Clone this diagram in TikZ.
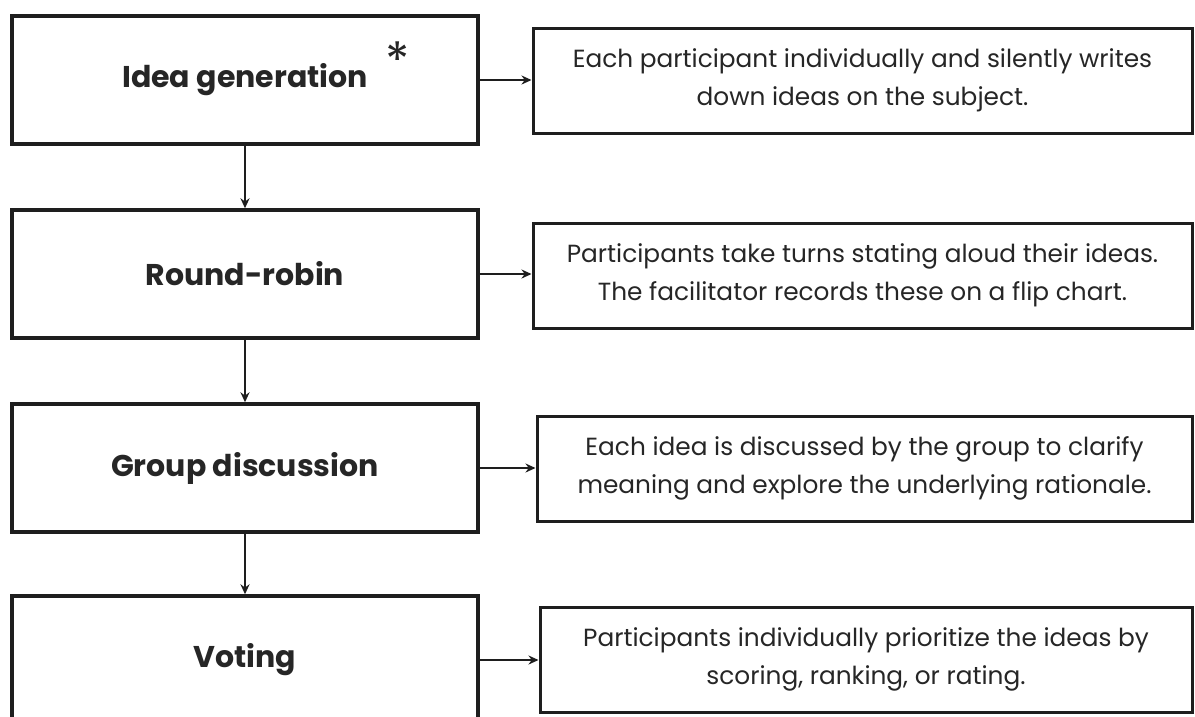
\documentclass[tikz,border=0pt]{standalone}
\usepackage{fontspec}
\setmainfont{Poppins}
\usetikzlibrary{arrows.meta}
\definecolor{ink}{HTML}{1E1E1E}
\definecolor{txt}{HTML}{262626}
\tikzset{
  stagebox/.style={draw=ink, line width=3.4pt, fill=white, minimum width=466pt, minimum height=128pt, inner sep=0pt, font=\fontsize{30}{34}\selectfont\bfseries, text=txt},
  descbox/.style={draw=ink, line width=3pt, fill=white, minimum height=105pt, inner sep=0pt, align=center, font=\fontsize{24.8}{38}\selectfont, text=txt},
  flow/.style={draw=ink, line width=2.8pt, -{Stealth[length=10pt,width=9pt]}}
}
\begin{document}
\begin{tikzpicture}[x=1pt,y=-1pt]
\useasboundingbox (0,0) rectangle (1195,716);
\clip (0,0) rectangle (1195,716);
\fill[white] (0,0) rectangle (1195,716);
\node[stagebox] (b1) at (245,80) {Idea generation};
\node[stagebox] (b2) at (245,274) {Round-robin};
\node[stagebox] (b3) at (245,468) {Group discussion};
\node[stagebox] (b4) at (245,660) {Voting};
\node[font=\fontsize{50}{50}\selectfont, text=txt, inner sep=0pt] (star) at (398,60) {*};
\node[descbox, minimum width=659pt] (r1) at (862.5,80.5) {Each participant individually and silently writes\\down ideas on the subject.};
\node[descbox, minimum width=659pt] (r2) at (862.5,275.5) {Participants take turns stating aloud their ideas.\\The facilitator records these on a flip chart.};
\node[descbox, minimum width=655pt] (r3) at (864.5,468.5) {Each idea is discussed by the group to clarify\\meaning and explore the underlying rationale.};
\node[descbox, minimum width=652pt] (r4) at (866,659.5) {Participants individually prioritize the ideas by\\scoring, ranking, or rating.};
\draw[flow] (b1.south) -- (b2.north);
\draw[flow] (b2.south) -- (b3.north);
\draw[flow] (b3.south) -- (b4.north);
\draw[flow] (b1.east) -- (b1.east -| r1.west);
\draw[flow] (b2.east) -- (b2.east -| r2.west);
\draw[flow] (b3.east) -- (b3.east -| r3.west);
\draw[flow] (b4.east) -- (b4.east -| r4.west);
\end{tikzpicture}
\end{document}
